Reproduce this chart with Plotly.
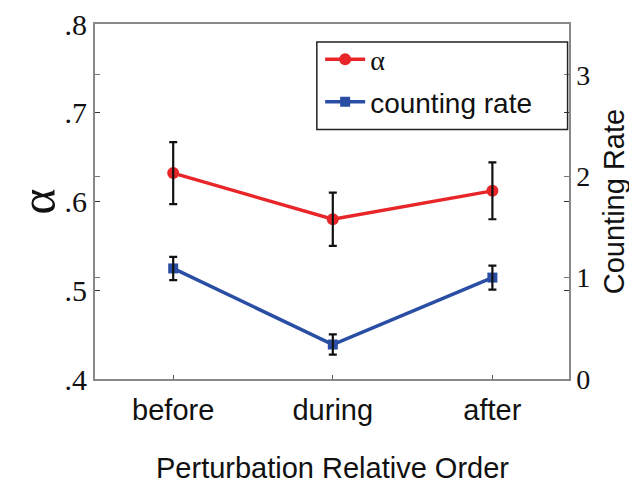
import plotly.graph_objects as go

categories = ["before", "during", "after"]
alpha_vals = [0.632, 0.580, 0.612]
alpha_err = [0.035, 0.030, 0.032]
rate_vals = [1.09, 0.34, 1.00]
rate_err = [0.115, 0.10, 0.118]
left_ticks = [0.4, 0.5, 0.6, 0.7, 0.8]
left_ticktext = [".4", ".5", ".6", ".7", ".8"]
right_ticks = [0, 1, 2, 3]

RED = "#e8262a"
BLUE = "#2a4ea3"
SERIF = "Liberation Serif, Times New Roman, serif"
SANS = "Liberation Sans, Arial, sans-serif"

fig = go.Figure()

fig.add_trace(go.Scatter(
    x=categories, y=alpha_vals, mode="lines+markers",
    name="<span style='font-family:Liberation Serif'>α</span>",
    line=dict(color=RED, width=3.5),
    marker=dict(symbol="circle", size=12, color=RED),
    legendgroup="a",
))
fig.add_trace(go.Scatter(
    x=categories, y=rate_vals, mode="lines+markers", yaxis="y2",
    name="counting rate",
    line=dict(color=BLUE, width=3.5),
    marker=dict(symbol="square", size=10, color=BLUE),
    legendgroup="b",
))
# error bars drawn on top of the markers
fig.add_trace(go.Scatter(
    x=categories, y=alpha_vals, mode="markers", showlegend=False,
    marker=dict(size=1, color="rgba(0,0,0,0)"),
    error_y=dict(type="data", array=alpha_err, color="#111", thickness=2.2, width=4),
    hoverinfo="skip",
))
fig.add_trace(go.Scatter(
    x=categories, y=rate_vals, mode="markers", showlegend=False, yaxis="y2",
    marker=dict(size=1, color="rgba(0,0,0,0)"),
    error_y=dict(type="data", array=rate_err, color="#111", thickness=2.2, width=4),
    hoverinfo="skip",
))

# page body has an 8px default margin, so the figure is sized/offset to compensate
fig.update_layout(
    width=629, height=476,
    margin=dict(l=87, r=68, t=16, b=105, autoexpand=False),
    paper_bgcolor="white", plot_bgcolor="white",
    showlegend=True,
    legend=dict(
        x=0.475, y=0.97, xanchor="left", yanchor="top",
        bgcolor="rgba(0,0,0,0)", borderwidth=0,
        font=dict(family=SANS, size=28, color="#111"),
        itemwidth=40, tracegroupgap=3,
    ),
    xaxis=dict(
        type="category", range=[-0.49, 2.48], automargin=False,
        showline=True, linecolor="#888", linewidth=1.5, mirror=True,
        ticks="inside", ticklen=4, tickcolor="#555",
        tickfont=dict(family=SANS, size=29, color="#111"),
        ticklabelstandoff=4,
        showgrid=False, zeroline=False,
    ),
    yaxis=dict(
        range=[0.4, 0.8], tickvals=left_ticks, ticktext=left_ticktext, automargin=False,
        ticklabeloverflow="allow",
        showline=True, linecolor="#111", linewidth=2,
        ticks="inside", ticklen=5, tickcolor="#333", mirror="ticks",
        tickfont=dict(family=SERIF, size=30, color="#111"),
        showgrid=False, zeroline=False,
    ),
    yaxis2=dict(
        range=[0, 3.5], tickvals=right_ticks, overlaying="y", side="right", automargin=False,
        ticklabeloverflow="allow",
        showline=True, linecolor="#888", linewidth=1.5,
        ticks="inside", ticklen=5, tickcolor="#777", mirror="ticks",
        tickfont=dict(family=SERIF, size=28, color="#111"),
        ticklabelstandoff=0,
        title=dict(text="Counting Rate", font=dict(family=SANS, size=29, color="#111"), standoff=14),
        showgrid=False, zeroline=False,
    ),
    annotations=[
        dict(text="α", xref="paper", yref="paper", x=-0.122, y=0.5,
             xanchor="center", yanchor="middle", textangle=-90, showarrow=False,
             font=dict(family=SERIF, size=50, color="#111")),
        dict(text="Perturbation Relative Order", xref="paper", yref="paper",
             x=0.5, y=-0.25, xanchor="center", yanchor="middle", showarrow=False,
             font=dict(family=SANS, size=29, color="#111")),
    ],
    shapes=[dict(
        type="rect", xref="paper", yref="paper",
        x0=0.468, x1=0.997, y0=0.703, y1=0.949,
        line=dict(color="#222", width=1.5), fillcolor="rgba(0,0,0,0)",
    )],
)

fig.write_html("out.html")
